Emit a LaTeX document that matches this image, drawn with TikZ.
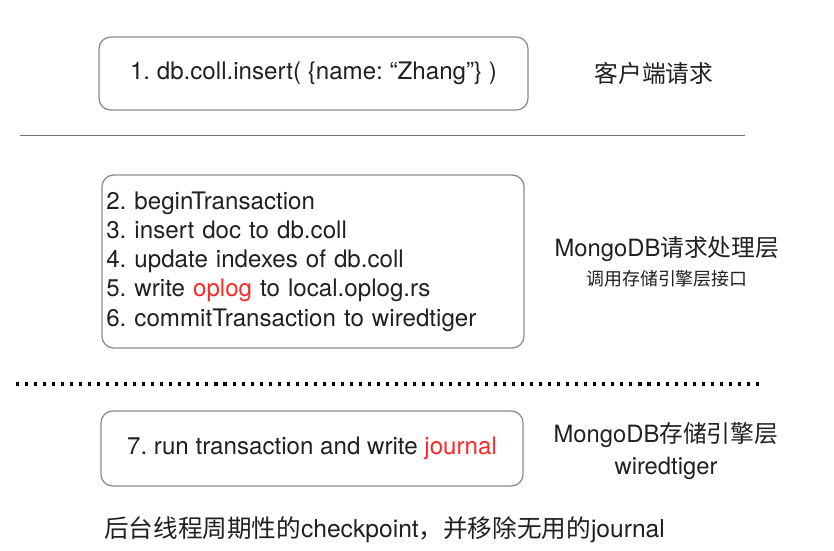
\documentclass[tikz,border=0pt]{standalone}
\usepackage{fontspec}
\setmainfont{TeX Gyre Heros}
\newfontfamily\cjk{Noto Sans CJK SC}
\usepackage{xcolor}
\usetikzlibrary{positioning}
\definecolor{boxgray}{HTML}{8C8C8C}
\definecolor{hlred}{HTML}{FF2626}
\definecolor{inkblack}{HTML}{202020}
\newcommand{\hl}[1]{\textcolor{hlred}{#1}}
\frenchspacing

\begin{document}
\begin{tikzpicture}[
    x=0.03cm, y=-0.03cm,
    layer/.style={rectangle, rounded corners=10pt, draw=boxgray, line width=1.1pt, inner sep=0pt, outer sep=0pt, minimum width=#1, text=inkblack, font=\fontsize{20.6}{24.9}\selectfont},
    tag/.style={inner sep=0pt, text=inkblack, font=\fontsize{20.3}{24}\selectfont},
    subtag/.style={inner sep=0pt, text=inkblack, font=\fontsize{15.3}{18}\selectfont},
]
\useasboundingbox (0,0) rectangle (834,550);
% client request
\node[layer=12.87cm, minimum height=2.19cm] (req) at (313.5,73.5) {1. db.coll.insert( \{name: “Zhang”\} )};
\node[tag] (reqtag) at (654,73) {\cjk 客户端请求};
\coordinate (sepL) at (20,135); \coordinate (sepR) at (745,135);
\draw[boxgray!80!black, line width=0.8pt] (sepL) -- (sepR);
% request processing layer
\node[layer=12.66cm, minimum height=5.19cm, text width=12.4cm, align=left] (proc) at (313,261.5) {2. beginTransaction\\3. insert doc to db.coll\\4. update indexes of db.coll\\5. write \hl{oplog} to local.oplog.rs\\6. commitTransaction to wiredtiger};
\node[tag] (proctag) at (667,249) {MongoDB{\cjk 请求处理层}};
\node[subtag, below=7pt of proctag.south] (procsub) {\cjk 调用存储引擎层接口};
\coordinate (dotL) at (16,384); \coordinate (dotR) at (760,384);
\draw[black, line width=3pt, dash pattern=on 2.6pt off 5.1pt] (dotL) -- (dotR);
% storage engine layer
\node[layer=12.66cm, minimum height=2.25cm] (store) at (312,448.5) {7. run transaction and write \hl{journal}};
\node[tag] (storetag) at (666,435) {MongoDB{\cjk 存储引擎层}};
\node[tag, below=8pt of storetag.south] (storesub) {wiredtiger};
\node[tag, anchor=west, font=\fontsize{21}{24}\selectfont] (bgnote) at (104,530) {{\cjk 后台线程周期性的}checkpoint{\cjk ，并移除无用的}journal};
\end{tikzpicture}
\end{document}
